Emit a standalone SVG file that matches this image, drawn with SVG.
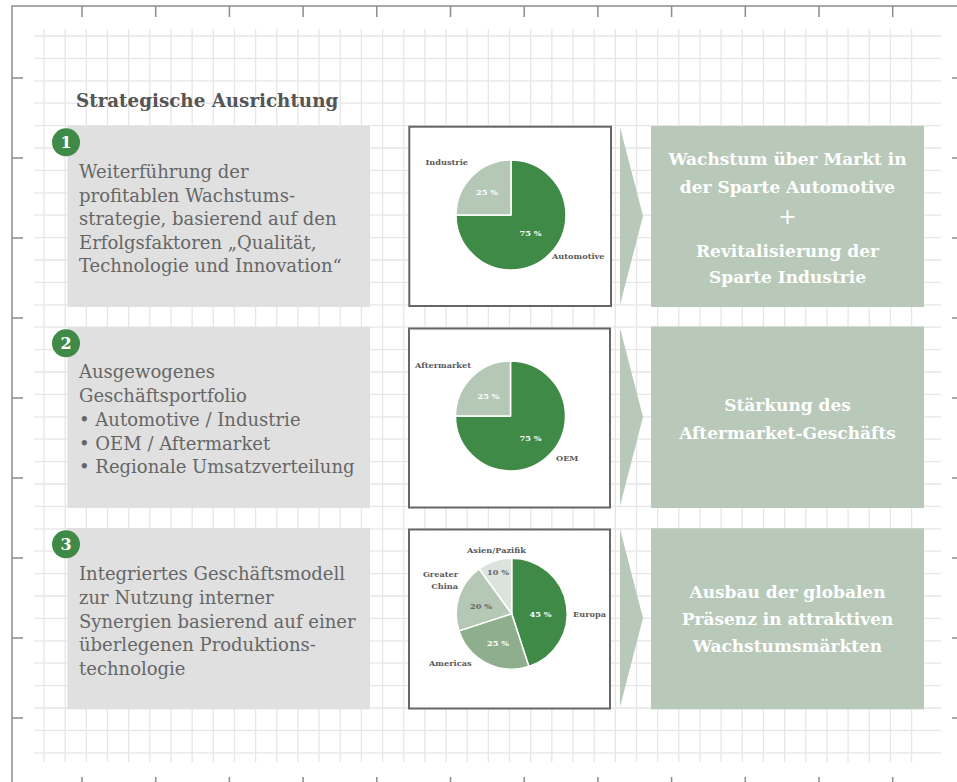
<svg xmlns="http://www.w3.org/2000/svg" width="957" height="782" viewBox="0 0 957 782">
<style>
.grid{stroke:#e6e6e6;stroke-width:1.3;fill:none}
.frame{stroke:#8c8c8c;stroke-width:1.5;fill:none}
.tick{stroke:#8c8c8c;stroke-width:1.5}
.lbox{fill:#e0e0e0}
.pbox{fill:#fff;stroke:#666;stroke-width:2}
.gbox{fill:#b8c9b9}
.arrow{fill:#b8c9b9}
.num{fill:#3f8a46}
.numt{font-family:"DejaVu Serif",serif;font-weight:bold;font-size:16px;fill:#fff;text-anchor:middle}
.title{font-family:"DejaVu Serif",serif;font-weight:bold;font-size:18.3px;fill:#555}
.lt{font-family:"DejaVu Serif",serif;font-size:18px;fill:#666}
.gt{font-family:"DejaVu Serif",serif;font-weight:bold;font-size:17px;fill:#fff;text-anchor:middle}
.pl{font-family:"DejaVu Serif",serif;font-weight:bold;font-size:8.2px;fill:#5a5a5a}
.pw{font-family:"DejaVu Serif",serif;font-weight:bold;font-size:8.2px;fill:#fff;text-anchor:middle}
.pd{font-family:"DejaVu Serif",serif;font-weight:bold;font-size:8.2px;fill:#666;text-anchor:middle}
.s{stroke:#fff;stroke-width:1.5;stroke-linejoin:round}
</style>
<g id="grid">
<path class="grid" d="M44 29v733m21.16 -733v733m21.16 -733v733m21.16 -733v733m21.16 -733v733m21.16 -733v733m21.16 -733v733m21.16 -733v733m21.16 -733v733m21.16 -733v733m21.16 -733v733m21.16 -733v733m21.16 -733v733m21.16 -733v733m21.16 -733v733m21.16 -733v733m21.16 -733v733m21.16 -733v733m21.16 -733v733m21.16 -733v733m21.16 -733v733m21.16 -733v733m21.16 -733v733m21.16 -733v733m21.16 -733v733m21.16 -733v733m21.16 -733v733m21.16 -733v733m21.16 -733v733m21.16 -733v733m21.16 -733v733m21.16 -733v733m21.16 -733v733m21.16 -733v733m21.16 -733v733m21.16 -733v733m21.16 -733v733m21.16 -733v733m21.16 -733v733m21.16 -733v733m21.16 -733v733m21.16 -733v733"/>
<path class="grid" d="M34 36h907m-907 22.4h907m-907 22.4h907m-907 22.4h907m-907 22.4h907m-907 22.4h907m-907 22.4h907m-907 22.4h907m-907 22.4h907m-907 22.4h907m-907 22.4h907m-907 22.4h907m-907 22.4h907m-907 22.4h907m-907 22.4h907m-907 22.4h907m-907 22.4h907m-907 22.4h907m-907 22.4h907m-907 22.4h907m-907 22.4h907m-907 22.4h907m-907 22.4h907m-907 22.4h907m-907 22.4h907m-907 22.4h907m-907 22.4h907m-907 22.4h907m-907 22.4h907m-907 22.4h907m-907 22.4h907m-907 22.4h907m-907 22.4h907"/>
</g>
<g id="frame">
<path class="frame" d="M12 782V6H957"/>
<path class="tick" d="M82 6v11M155.7 6v11M229.4 6v11M303.1 6v11M376.8 6v11M450.5 6v11M524.2 6v11M597.9 6v11M671.6 6v11M745.3 6v11M819 6v11M892.7 6v11"/>
<path class="tick" d="M82 777v5M155.7 777v5M229.4 777v5M303.1 777v5M376.8 777v5M450.5 777v5M524.2 777v5M597.9 777v5M671.6 777v5M745.3 777v5M819 777v5M892.7 777v5"/>
<path class="tick" d="M12 78h11M12 158h11M12 238h11M12 318h11M12 398h11M12 478h11M12 558h11M12 638h11M12 718h11"/>
<path class="tick" d="M952 78h5M952 158h5M952 238h5M952 318h5M952 398h5M952 478h5M952 558h5M952 638h5M952 718h5"/>
</g>
<text class="title" x="76" y="107">Strategische Ausrichtung</text>

<g id="row1-text">
<rect class="lbox" x="67.3" y="126" width="302.7" height="181"/>
<circle class="num" cx="66" cy="142.3" r="14"/>
<text class="numt" x="66" y="148">1</text>
<text class="lt" x="79"><tspan x="79" y="178">Weiterführung der</tspan><tspan x="79" y="201.5">profitablen Wachstums-</tspan><tspan x="79" y="225">strategie, basierend auf den</tspan><tspan x="79" y="248.5">Erfolgsfaktoren „Qualität,</tspan><tspan x="79" y="272">Technologie und Innovation“</tspan></text>
</g>
<g id="row1-pie">
<rect class="pbox" x="409.3" y="126.7" width="201.7" height="179.3"/>
<path class="s" fill="#3f8a46" d="M511 215V160A55 55 0 1 1 456 215Z"/>
<path class="s" fill="#b5c8b6" d="M511 215V160A55 55 0 0 0 456 215Z"/>
<text class="pl" x="425.5" y="165">Industrie</text>
<text class="pl" x="552" y="258.5">Automotive</text>
<text class="pw" x="487" y="195">25 %</text>
<text class="pw" x="530.5" y="236">75 %</text>
</g>
<polygon id="row1-arrow" class="arrow" points="620,127 643,216 620,305"/>
<g id="row1-result">
<rect class="gbox" x="651" y="126" width="273" height="181"/>
<text class="gt"><tspan x="787.5" y="165">Wachstum über Markt in</tspan><tspan x="787.5" y="192.5">der Sparte Automotive</tspan><tspan x="787.5" y="224" style="font-weight:normal;font-size:22px">+</tspan><tspan x="787.5" y="256.5">Revitalisierung der</tspan><tspan x="787.5" y="283">Sparte Industrie</tspan></text>
</g>

<g id="row2-text">
<rect class="lbox" x="67.3" y="327" width="302.7" height="181"/>
<circle class="num" cx="66" cy="343.3" r="14"/>
<text class="numt" x="66" y="349">2</text>
<text class="lt" x="79"><tspan x="79" y="378">Ausgewogenes</tspan><tspan x="79" y="402">Geschäftsportfolio</tspan><tspan x="79" y="426">• Automotive / Industrie</tspan><tspan x="79" y="449.5">• OEM / Aftermarket</tspan><tspan x="79" y="473">• Regionale Umsatzverteilung</tspan></text>
</g>
<g id="row2-pie">
<rect class="pbox" x="409" y="328.5" width="201" height="179"/>
<path class="s" fill="#3f8a46" d="M510.5 416V361A55 55 0 1 1 455.5 416Z"/>
<path class="s" fill="#b5c8b6" d="M510.5 416V361A55 55 0 0 0 455.5 416Z"/>
<text class="pl" x="415" y="368">Aftermarket</text>
<text class="pl" x="556" y="461">OEM</text>
<text class="pw" x="488.5" y="399">25 %</text>
<text class="pw" x="530.5" y="441">75 %</text>
</g>
<polygon id="row2-arrow" class="arrow" points="620,328 643,417 620,506"/>
<g id="row2-result">
<rect class="gbox" x="651" y="326.5" width="273" height="181.5"/>
<text class="gt"><tspan x="787.5" y="411">Stärkung des</tspan><tspan x="787.5" y="439">Aftermarket-Geschäfts</tspan></text>
</g>

<g id="row3-text">
<rect class="lbox" x="67.3" y="528" width="302.7" height="181.3"/>
<circle class="num" cx="66" cy="544.3" r="14"/>
<text class="numt" x="66" y="550">3</text>
<text class="lt" x="79"><tspan x="79" y="580">Integriertes Geschäftsmodell</tspan><tspan x="79" y="604">zur Nutzung interner</tspan><tspan x="79" y="627.5">Synergien basierend auf einer</tspan><tspan x="79" y="651">überlegenen Produktions-</tspan><tspan x="79" y="674.5">technologie</tspan></text>
</g>
<g id="row3-pie">
<rect class="pbox" x="409" y="529.5" width="201" height="179"/>
<path class="s" fill="#3f8a46" d="M511.7 613.7V558.2A55.5 55.5 0 0 1 528.85 666.48Z"/>
<path class="s" fill="#8fae8e" d="M511.7 613.7L528.85 666.48A55.5 55.5 0 0 1 458.92 630.85Z"/>
<path class="s" fill="#b5c8b6" d="M511.7 613.7L458.92 630.85A55.5 55.5 0 0 1 479.08 568.8Z"/>
<path class="s" fill="#dce2dc" d="M511.7 613.7L479.08 568.8A55.5 55.5 0 0 1 511.7 558.2Z"/>
<text class="pl" x="467" y="553">Asien/Pazifik</text>
<text class="pl" x="458" y="577" text-anchor="end">Greater</text>
<text class="pl" x="458" y="589" text-anchor="end">China</text>
<text class="pl" x="573" y="616.5">Europa</text>
<text class="pl" x="429" y="665.5">Americas</text>
<text class="pd" x="498" y="575">10 %</text>
<text class="pd" x="481" y="609">20 %</text>
<text class="pw" x="540.5" y="617">45 %</text>
<text class="pw" x="498" y="646">25 %</text>
</g>
<polygon id="row3-arrow" class="arrow" points="620,529 643,618 620,707"/>
<g id="row3-result">
<rect class="gbox" x="651" y="528.3" width="273" height="181"/>
<text class="gt"><tspan x="787.5" y="598">Ausbau der globalen</tspan><tspan x="787.5" y="625">Präsenz in attraktiven</tspan><tspan x="787.5" y="652">Wachstumsmärkten</tspan></text>
</g>
</svg>
